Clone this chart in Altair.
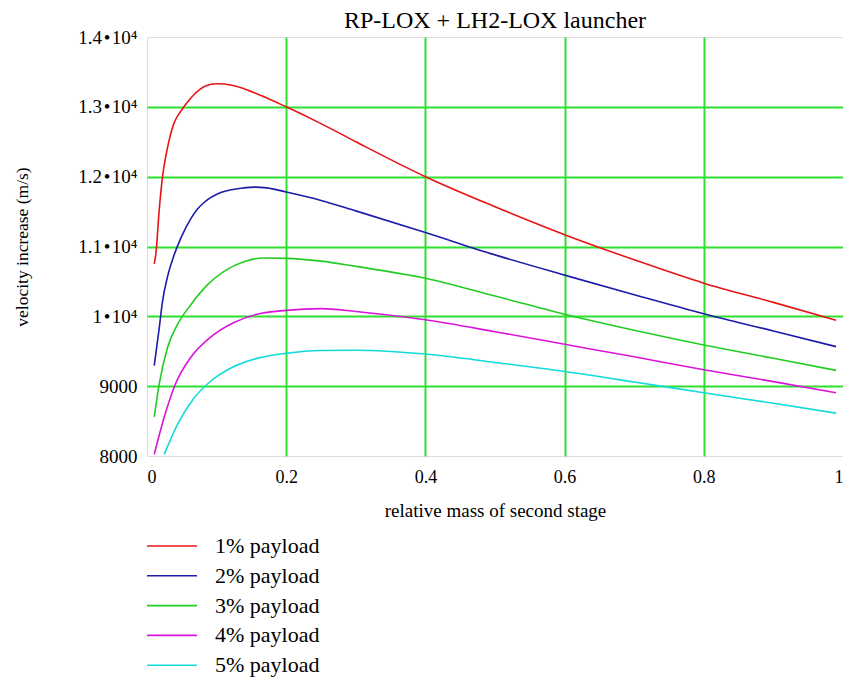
import altair as alt
import pandas as pd

# ---- data ----
series_names = ["1% payload", "2% payload", "3% payload", "4% payload", "5% payload"]
series_colors = ["#e81414", "#1c1ca8", "#22cc22", "#d914d9", "#14dada"]

x_1 = [0.0104, 0.0128, 0.0176, 0.0223, 0.027, 0.032, 0.039, 0.046, 0.053, 0.06, 0.068, 0.076,
       0.084, 0.1, 0.122, 0.139, 0.163, 0.2, 0.25, 0.3, 0.4, 0.5, 0.6, 0.7, 0.8, 0.9, 0.99]
v_1 = [10750, 10900, 11530, 12000, 12290, 12530, 12770, 12900, 13000, 13090, 13180, 13250,
       13300, 13330, 13310, 13260, 13166, 13000, 12760, 12500, 12000, 11570, 11170, 10810, 10475, 10200, 9945]

x_2 = [0.0104, 0.0176, 0.0223, 0.0295, 0.039, 0.0486, 0.063, 0.072, 0.082, 0.106, 0.139, 0.155, 0.172, 0.2,
       0.25, 0.3, 0.4, 0.5, 0.6, 0.7, 0.8, 0.9, 0.99]
v_2 = [9294, 9834, 10213, 10569, 10880, 11120, 11400, 11530, 11630, 11772, 11840, 11850, 11840, 11780,
       11660, 11510, 11200, 10880, 10590, 10310, 10037, 9790, 9566]

x_3 = [0.0104, 0.0176, 0.0295, 0.0437, 0.063, 0.0867, 0.11, 0.139, 0.168, 0.2, 0.25, 0.3,
       0.4, 0.5, 0.6, 0.7, 0.8, 0.9, 0.99]
v_3 = [8559, 9034, 9555, 9882, 10166, 10450, 10640, 10782, 10835, 10830, 10790, 10715,
       10545, 10290, 10030, 9800, 9590, 9400, 9226]

x_4 = [0.0104, 0.0247, 0.041, 0.063, 0.091, 0.125, 0.158, 0.2, 0.25, 0.3, 0.4, 0.5, 0.6,
       0.7, 0.8, 0.9, 0.99]
v_4 = [8024, 8555, 9034, 9413, 9698, 9911, 10030, 10085, 10110, 10070, 9950, 9780, 9600,
       9420, 9236, 9065, 8905]

x_5 = [0.0247, 0.0437, 0.0676, 0.091, 0.12, 0.158, 0.2, 0.25, 0.3, 0.4, 0.5, 0.6, 0.7,
       0.8, 0.9, 0.99]
v_5 = [8024, 8450, 8830, 9067, 9257, 9398, 9470, 9510, 9515, 9460, 9340, 9210, 9060,
       8905, 8755, 8614]

x_ticks = [0, 0.2, 0.4, 0.6, 0.8, 1]
y_ticks = [8000, 9000, 10000, 11000, 12000, 13000, 14000]

rows = []
for name, xs, vs in zip(series_names, [x_1, x_2, x_3, x_4, x_5], [v_1, v_2, v_3, v_4, v_5]):
    for a, b in zip(xs, vs):
        rows.append({"series": name, "x": a, "v": b})
df = pd.DataFrame(rows)

FONT = "Liberation Serif"
GRID = "#2fe02f"
PLOT_W, PLOT_H = 696, 419
TOTAL_H = 674

chart = alt.Chart(df).mark_line(strokeWidth=1.6, interpolate="monotone", clip=True).encode(
    x=alt.X("x:Q",
            scale=alt.Scale(domain=[0, 1], nice=False, zero=False),
            axis=alt.Axis(values=x_ticks, format="~g", title="relative mass of second stage",
                          grid=True, gridColor=GRID, gridWidth=2,
                          gridOpacity={"condition": {"test": "datum.value <= 0 || datum.value >= 1", "value": 0}, "value": 1},
                          ticks=False, domain=False,
                          labelFont=FONT, labelFontSize=18, labelColor="black", labelPadding=12,
                          labelBaseline="top",
                          titleFont=FONT, titleFontSize=19, titleFontWeight="normal", titleColor="black",
                          titleX=PLOT_W / 2, titleY=54, titleAlign="center", titleBaseline="middle")),
    y=alt.Y("v:Q",
            scale=alt.Scale(domain=[8000, 14000], nice=False, zero=False),
            axis=alt.Axis(values=y_ticks,
                          labelExpr="datum.value >= 10000 ? format(datum.value / 10000, '.1~f') + '\u200a\u2022\u200a10\u2074' : format(datum.value, 'd')",
                          title="velocity increase (m/s)",
                          grid=True, gridColor=GRID, gridWidth=2,
                          gridOpacity={"condition": {"test": "datum.value <= 8000 || datum.value >= 14000", "value": 0}, "value": 1},
                          ticks=False, domain=False,
                          labelFont=FONT, labelFontSize=19, labelColor="black", labelPadding=10,
                          titleFont=FONT, titleFontSize=17.5, titleFontWeight="normal", titleColor="black",
                          titleX=-125, titleY=PLOT_H / 2, titleAlign="center", titleBaseline="middle",
                          titleAngle=270)),
    color=alt.Color("series:N",
                    scale=alt.Scale(domain=series_names, range=series_colors),
                    legend=alt.Legend(title=None, orient="none", legendX=14, legendY=498,
                                      direction="vertical",
                                      symbolType="M-2.5,0H2.5", symbolSize=400,
                                      symbolStrokeWidth=1.6, symbolFillColor="transparent",
                                      labelFont=FONT, labelFontSize=22, labelColor="black",
                                      labelOffset=32, rowPadding=7.8, padding=0,
                                      labelLimit=300)),
).properties(
    width=PLOT_W,
    height=PLOT_H,
    title=alt.Title("RP-LOX + LH2-LOX launcher", font=FONT, fontSize=24, fontWeight="normal",
                    color="black", anchor="middle", offset=-5),
    autosize=alt.AutoSizeParams(type="none"),
    padding={"left": 139, "top": 29, "right": 0, "bottom": TOTAL_H - 29 - PLOT_H},
).configure_view(
    stroke="black", strokeWidth=2
).configure(background="white")

chart.save("out.html", embed_options={"renderer": "svg", "actions": False})
